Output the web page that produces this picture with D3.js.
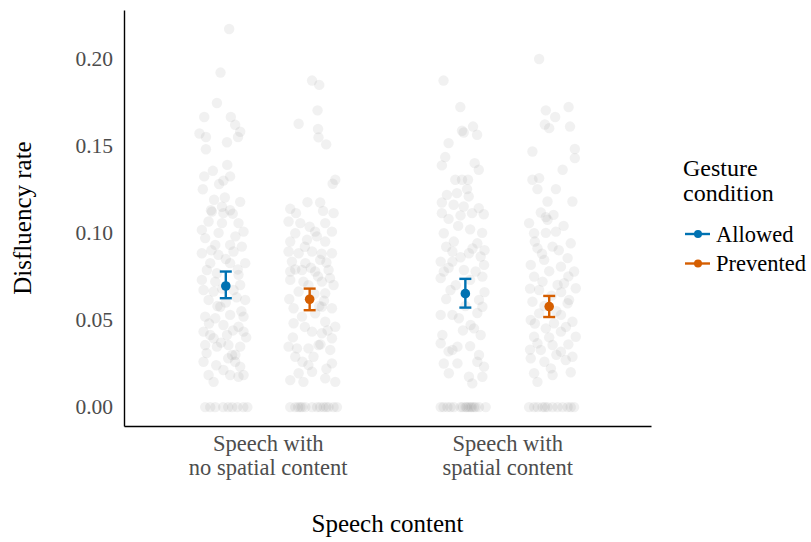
<!DOCTYPE html>
<html>
<head>
<meta charset="utf-8">
<script src="https://cdn.jsdelivr.net/npm/d3@7/dist/d3.min.js"></script>
<style>
  html, body { margin: 0; padding: 0; background: #fff; }
  svg { display: block; }
  text { font-family: "Liberation Serif", "Times New Roman", serif; }
</style>
</head>
<body>
<svg id="chart" width="811" height="542"></svg>
<script>
// Speech content categories (x axis) and gesture conditions (dodged series)
const contentCategories = ["Speech with\nno spatial content", "Speech with\nspatial content"];
const gestureConditions = ["Allowed", "Prevented"];
const conditionColors = ["#0072B2", "#D55E00"];
const yTicks = [0.00, 0.05, 0.10, 0.15, 0.20];

// Condition means with 95% CI bounds, in category order
const allowedMean  = [0.0695, 0.0651];
const allowedLow   = [0.0625, 0.0571];
const allowedHigh  = [0.0778, 0.0736];
const preventedMean = [0.0619, 0.0577];
const preventedLow  = [0.0556, 0.0517];
const preventedHigh = [0.0680, 0.0638];

// Individual disfluency rates: [horizontal jitter (category units), rate]
const noSpatialAllowed = [
  [0.014,0.217],[-0.022,0.192],[-0.037,0.1745],[-0.090,0.1665],[0.021,0.1665],[-0.110,0.157],
  [-0.083,0.155],[0.039,0.162],[0.060,0.158],[0.051,0.155],[0.005,0.152],[-0.083,0.148],
  [0.006,0.139],[-0.054,0.1356],[-0.090,0.1324],[0.018,0.1324],[-0.010,0.130],[-0.028,0.128],
  [-0.096,0.125],[-0.049,0.119],[-0.004,0.1203],[0.060,0.1178],[-0.062,0.113],[-0.016,0.115],
  [0.018,0.113],[-0.058,0.1122],[-0.010,0.1113],[0.029,0.111],[-0.072,0.1065],[-0.016,0.1056],
  [0.053,0.1056],[-0.100,0.1017],[0.074,0.1007],[-0.086,0.097],[-0.044,0.0931],[0.018,0.0931],
  [0.067,0.0921],[-0.100,0.0883],[-0.031,0.0874],[0.032,0.0893],[-0.065,0.0826],[0.018,0.0826],
  [0.081,0.0826],[-0.079,0.0787],[-0.037,0.0768],[0.053,0.0759],[-0.100,0.073],[-0.044,0.072],
  [0.060,0.0701],[-0.093,0.0672],[-0.051,0.0663],[0.032,0.0672],[0.081,0.0615],[-0.072,0.0615],
  [-0.023,0.0576],[-0.086,0.0519],[-0.044,0.051],[0.018,0.0529],[0.074,0.0519],[-0.010,0.0471],
  [0.053,0.0461],[-0.093,0.0433],[-0.065,0.0414],[-0.051,0.0395],[0.005,0.0414],[0.074,0.0433],
  [-0.086,0.0356],[-0.037,0.0347],[0.011,0.0356],[0.060,0.0347],[0.026,0.0299],[0.039,0.026],
  [-0.093,0.026],[0.060,0.0232],[-0.010,0.0213],[-0.072,0.0184],[0.018,0.0184],[0.053,0.0174],
  [-0.051,0.0145],[0.074,0.0184],
  [-0.030,0.100],[0.040,0.098],[-0.060,0.090],[0.000,0.085],[0.050,0.079],[-0.015,0.068],
  [0.045,0.063],[-0.035,0.058],[0.065,0.055],[0.000,0.060],[-0.070,0.048],[0.030,0.044],
  [-0.020,0.037],[0.085,0.040],[0.040,0.030],[-0.040,0.024],[0.010,0.028],[-0.080,0.031],
  [-0.086,0],[-0.044,0],[-0.011,0],[0.027,0],[0.048,0],[0.073,0],[0.090,0],[-0.065,0],[0.010,0]
];
const noSpatialPrevented = [
  [0.010,0.1874],[0.040,0.1849],[0.033,0.1703],[-0.046,0.1626],[0.035,0.1596],[0.037,0.1548],
  [0.069,0.1508],[0.107,0.1305],[0.096,0.1282],[-0.009,0.1176],[0.044,0.1174],[-0.081,0.1138],
  [-0.057,0.1113],[0.056,0.1126],[0.100,0.1113],[-0.088,0.1065],[-0.039,0.1056],[0.065,0.1056],
  [-0.060,0.0998],[0.023,0.1007],[0.093,0.1007],[-0.081,0.095],[-0.011,0.096],[0.065,0.095],
  [-0.088,0.0893],[-0.046,0.0883],[0.010,0.0893],[0.093,0.0883],[-0.074,0.0835],[-0.018,0.0826],
  [0.044,0.0845],[-0.081,0.0778],[-0.032,0.0787],[0.023,0.0778],[0.079,0.0787],[-0.081,0.073],
  [-0.026,0.072],[0.051,0.072],[0.100,0.0701],[-0.046,0.0663],[0.065,0.0653],[-0.067,0.0567],
  [0.051,0.0576],[0.093,0.0567],[-0.032,0.0519],[0.023,0.0538],[0.065,0.049],[-0.067,0.0481],
  [0.107,0.0461],[0.010,0.0433],[0.051,0.0424],[0.093,0.0395],[-0.088,0.0347],[-0.053,0.0337],
  [-0.005,0.0337],[0.037,0.0356],[0.086,0.0328],[-0.060,0.0289],[0.016,0.0289],[-0.005,0.0241],
  [0.093,0.0251],[-0.046,0.0194],[0.010,0.0203],[-0.081,0.0155],[-0.026,0.0145],[0.065,0.0165],
  [0.107,0.0145],
  [0.000,0.1035],[0.030,0.098],[-0.020,0.092],[0.050,0.088],[0.070,0.083],[0.005,0.080],
  [-0.060,0.079],[0.035,0.075],[0.085,0.074],[-0.005,0.070],[0.020,0.065],[0.060,0.061],
  [-0.085,0.062],[0.040,0.058],[-0.020,0.046],[0.075,0.044],[-0.070,0.040],[0.045,0.036],
  [-0.030,0.026],[0.070,0.022],
  [-0.081,0],[-0.060,0],[-0.039,0],[-0.018,0],[0.010,0],[0.031,0],[0.058,0],[0.079,0],
  [0.100,0],[0.114,0],[-0.048,0],[-0.031,0],[0.069,0],[0.044,0]
];
const spatialAllowed = [
  [-0.091,0.1874],[-0.021,0.1722],[-0.014,0.1586],[-0.007,0.1576],[0.032,0.161],[0.049,0.1563],
  [-0.070,0.1515],[-0.084,0.1435],[-0.098,0.1387],[0.039,0.140],[0.056,0.1362],[-0.042,0.1305],
  [-0.014,0.1305],[0.011,0.1305],[-0.077,0.1218],[-0.035,0.1228],[0.007,0.1251],[-0.098,0.1174],
  [-0.049,0.1161],[0.014,0.1209],[-0.007,0.1151],[-0.098,0.1113],[0.028,0.1113],[0.056,0.1142],
  [0.077,0.1107],[-0.020,0.110],[-0.090,0.0998],[-0.048,0.095],[0.050,0.094],[-0.054,0.0893],
  [0.015,0.0883],[-0.103,0.0835],[-0.054,0.0835],[0.064,0.0864],[-0.090,0.0778],[-0.006,0.0787],
  [0.043,0.0778],[0.078,0.0816],[-0.103,0.074],[0.071,0.0749],[-0.062,0.0672],[0.057,0.0615],
  [-0.103,0.0529],[-0.054,0.0529],[0.071,0.0576],[-0.027,0.051],[0.022,0.0471],[0.036,0.0452],
  [-0.096,0.0414],[0.064,0.0414],[-0.103,0.0366],[-0.033,0.0347],[-0.054,0.0328],[0.057,0.0299],
  [-0.033,0.0251],[0.078,0.0232],[-0.069,0.0194],[0.015,0.0174],[0.029,0.0136],[0.071,0.0174],
  [-0.070,0.108],[-0.030,0.104],[0.020,0.102],[0.070,0.100],[-0.080,0.092],[0.030,0.091],
  [0.080,0.090],[-0.020,0.086],[-0.070,0.080],[0.020,0.073],[-0.040,0.070],[0.080,0.066],
  [-0.080,0.062],[0.000,0.058],[0.050,0.054],[-0.010,0.044],[-0.070,0.032],[0.020,0.035],
  [0.050,0.026],[-0.090,0.025],
  [-0.103,0],[-0.075,0],[-0.048,0],[-0.020,0],[0.001,0],[0.022,0],[0.036,0],[0.057,0],
  [0.085,0],[0.006,0],[0.014,0],[0.027,0],[0.043,0],[-0.011,0],[-0.091,0],[-0.062,0]
];
const spatialPrevented = [
  [-0.042,0.1998],[-0.014,0.1703],[0.081,0.1722],[0.025,0.1665],[-0.018,0.1622],[0.000,0.1601],
  [0.087,0.161],[-0.070,0.1467],[0.107,0.1481],[0.107,0.1429],[0.056,0.1362],[-0.070,0.1305],
  [-0.042,0.1314],[-0.049,0.1251],[0.028,0.1251],[-0.007,0.118],[0.097,0.118],[-0.035,0.1117],
  [-0.014,0.109],[0.018,0.1103],[-0.084,0.1056],[-0.007,0.1075],[0.028,0.1007],[-0.063,0.0998],
  [-0.014,0.100],[-0.049,0.0912],[0.014,0.0921],[0.077,0.0855],[-0.077,0.0816],[-0.021,0.0845],
  [0.049,0.0806],[0.104,0.0778],[-0.063,0.0749],[-0.028,0.072],[0.035,0.0701],[0.062,0.0711],
  [-0.042,0.0672],[0.111,0.0682],[0.083,0.0615],[-0.070,0.0605],[0.077,0.0596],[-0.042,0.0538],
  [0.049,0.0529],[-0.077,0.050],[0.020,0.0481],[0.097,0.049],[-0.014,0.0452],[0.049,0.0433],
  [-0.063,0.0404],[0.111,0.0404],[-0.049,0.0366],[0.014,0.0356],[-0.035,0.0328],[0.049,0.0318],
  [0.097,0.0289],[0.069,0.027],[-0.077,0.028],[0.007,0.0222],[-0.063,0.0194],[0.014,0.0184],
  [-0.049,0.0145],
  [0.060,0.104],[-0.060,0.095],[0.040,0.090],[0.090,0.094],[-0.030,0.088],[0.000,0.078],
  [0.080,0.075],[-0.080,0.068],[0.010,0.064],[0.050,0.066],[-0.020,0.058],[0.030,0.055],
  [-0.060,0.048],[0.070,0.046],[0.000,0.040],[0.080,0.036],[-0.080,0.033],[0.030,0.030],
  [-0.020,0.026],[0.090,0.020],
  [-0.084,0],[-0.063,0],[-0.028,0],[-0.007,0],[0.014,0],[0.035,0],[0.056,0],[0.077,0],
  [0.104,0],[-0.048,0],[0.090,0],[-0.018,0]
];

const pointGroups = [
  { cat: 0, cond: 0, pts: noSpatialAllowed },
  { cat: 0, cond: 1, pts: noSpatialPrevented },
  { cat: 1, cond: 0, pts: spatialAllowed },
  { cat: 1, cond: 1, pts: spatialPrevented }
];
const summaries = [
  { cat: 0, cond: 0, mean: allowedMean[0], lo: allowedLow[0], hi: allowedHigh[0] },
  { cat: 1, cond: 0, mean: allowedMean[1], lo: allowedLow[1], hi: allowedHigh[1] },
  { cat: 0, cond: 1, mean: preventedMean[0], lo: preventedLow[0], hi: preventedHigh[0] },
  { cat: 1, cond: 1, mean: preventedMean[1], lo: preventedLow[1], hi: preventedHigh[1] }
];

const svg = d3.select("#chart");
const plot = { left: 124, right: 651, top: 10, bottom: 426 };
const dodge = 0.175;

// Categories sit at 1 and 2 on a continuous axis, with dodged conditions either side
const x = d3.scaleLinear().domain([0.4, 2.6]).range([plot.left, plot.right]);
const y = d3.scaleLinear().domain([-0.01085, 0.2279]).range([plot.bottom, plot.top]);
const xPos = (cat, cond) => x(cat + 1 + (cond === 0 ? -dodge : dodge));

// Jittered raw observations
pointGroups.forEach(g => {
  svg.append("g").selectAll("circle")
    .data(g.pts)
    .join("circle")
    .attr("cx", d => xPos(g.cat, g.cond) + x(d[0]) - x(0))
    .attr("cy", d => y(d[1]))
    .attr("r", 5.2)
    .attr("fill", "#7a7a7a")
    .attr("fill-opacity", 0.1);
});

// Mean ± CI error bars
const capHalf = 6;
const eb = svg.append("g").selectAll("g").data(summaries).join("g")
  .attr("stroke", d => conditionColors[d.cond])
  .attr("fill", d => conditionColors[d.cond]);
eb.append("line")
  .attr("x1", d => xPos(d.cat, d.cond)).attr("x2", d => xPos(d.cat, d.cond))
  .attr("y1", d => y(d.lo)).attr("y2", d => y(d.hi))
  .attr("stroke-width", 2.4);
eb.append("line")
  .attr("x1", d => xPos(d.cat, d.cond) - capHalf).attr("x2", d => xPos(d.cat, d.cond) + capHalf)
  .attr("y1", d => y(d.hi)).attr("y2", d => y(d.hi))
  .attr("stroke-width", 2.4);
eb.append("line")
  .attr("x1", d => xPos(d.cat, d.cond) - capHalf).attr("x2", d => xPos(d.cat, d.cond) + capHalf)
  .attr("y1", d => y(d.lo)).attr("y2", d => y(d.lo))
  .attr("stroke-width", 2.4);
eb.append("circle")
  .attr("cx", d => xPos(d.cat, d.cond))
  .attr("cy", d => y(d.mean))
  .attr("r", 4.8)
  .attr("stroke", "none");

// Y axis
const yAxis = d3.axisLeft(y).tickValues(yTicks).tickFormat(d3.format(".2f")).tickSize(0).tickPadding(11);
const gy = svg.append("g").attr("transform", `translate(${plot.left},0)`).call(yAxis);
gy.select(".domain").attr("stroke", "#000").attr("stroke-width", 1.4);
gy.selectAll("text")
  .attr("font-family", "Liberation Serif, serif")
  .attr("font-size", 21.5)
  .attr("fill", "#4d4d4d");

// X axis with two-line category labels
const xAxis = d3.axisBottom(x).tickValues([1, 2]).tickFormat("").tickSize(0);
const gx = svg.append("g").attr("transform", `translate(0,${plot.bottom})`).call(xAxis);
gx.select(".domain").attr("stroke", "#000").attr("stroke-width", 1.4);
gx.selectAll(".tick").each(function(d, i) {
  const lines = contentCategories[i].split("\n");
  const t = d3.select(this).append("text")
    .attr("text-anchor", "middle")
    .attr("font-family", "Liberation Serif, serif")
    .attr("font-size", 22.5)
    .attr("fill", "#4d4d4d");
  lines.forEach((ln, k) => {
    t.append("tspan").attr("x", 0).attr("y", 25 + k * 24).text(ln);
  });
});

// Axis titles
svg.append("text")
  .attr("transform", `translate(31,${(plot.top + plot.bottom) / 2}) rotate(-90)`)
  .attr("text-anchor", "middle")
  .attr("font-size", 25)
  .attr("fill", "#000")
  .text("Disfluency rate");
svg.append("text")
  .attr("x", (plot.left + plot.right) / 2)
  .attr("y", 532)
  .attr("text-anchor", "middle")
  .attr("font-size", 25)
  .attr("fill", "#000")
  .text("Speech content");

// Legend
const legend = svg.append("g").attr("transform", "translate(683,0)");
legend.append("text").attr("x", 0).attr("y", 176).attr("font-size", 24).attr("fill", "#000").text("Gesture");
legend.append("text").attr("x", 0).attr("y", 201).attr("font-size", 24).attr("fill", "#000").text("condition");
const items = legend.selectAll("g.item").data(gestureConditions).join("g")
  .attr("class", "item")
  .attr("transform", (d, i) => `translate(0,${234 + i * 29.5})`);
items.append("line")
  .attr("x1", 2).attr("x2", 27).attr("y1", 0).attr("y2", 0)
  .attr("stroke", (d, i) => conditionColors[i]).attr("stroke-width", 2.4);
items.append("circle")
  .attr("cx", 15).attr("cy", 0).attr("r", 4)
  .attr("fill", (d, i) => conditionColors[i]);
items.append("text")
  .attr("x", 33).attr("y", 7.5)
  .attr("font-size", 22.5)
  .attr("fill", "#000")
  .text(d => d);
</script>
</body>
</html>
